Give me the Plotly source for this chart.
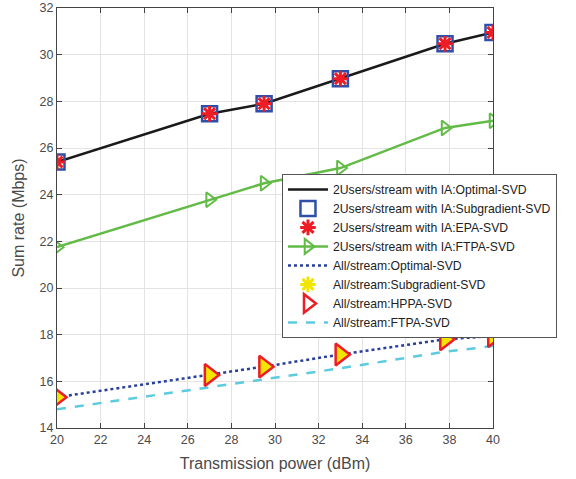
import plotly.graph_objects as go

power = [20, 27, 29.5, 33, 37.8, 40]
ia_optimal = [25.4, 27.47, 27.9, 28.97, 30.47, 30.95]
ia_subgrad = [25.4, 27.47, 27.9, 28.97, 30.47, 30.95]
ia_epa = [25.4, 27.47, 27.9, 28.97, 30.47, 30.95]
ia_ftpa = [21.75, 23.78, 24.49, 25.14, 26.86, 27.17]
all_optimal = [15.32, 16.27, 16.63, 17.15, 17.8, 17.94]
all_subgrad = [15.32, 16.27, 16.63, 17.15, 17.8, 17.94]
all_hppa = [15.32, 16.27, 16.63, 17.15, 17.8, 17.94]
all_ftpa = [14.8, 15.74, 16.09, 16.56, 17.27, 17.51]

names = [
    "2Users/stream with IA:Optimal-SVD",
    "2Users/stream with IA:Subgradient-SVD",
    "2Users/stream with IA:EPA-SVD",
    "2Users/stream with IA:FTPA-SVD",
    "All/stream:Optimal-SVD",
    "All/stream:Subgradient-SVD",
    "All/stream:HPPA-SVD",
    "All/stream:FTPA-SVD",
]

FONT = "Liberation Sans, Arial"

fig = go.Figure()
fig.add_trace(go.Scatter(x=power, y=ia_optimal, mode="lines", name=names[0],
                         line=dict(color="#1a1a1a", width=2.5), legendrank=1))
fig.add_trace(go.Scatter(x=power, y=ia_subgrad, mode="markers", name=names[1],
                         marker=dict(symbol="square-open", size=15, color="#2f4fa8",
                                     line=dict(color="#2f4fa8", width=2.5)), legendrank=2))
fig.add_trace(go.Scatter(x=power, y=ia_epa, mode="markers", name=names[2],
                         marker=dict(symbol="asterisk-open", size=13, color="#ee1c25",
                                     line=dict(color="#ee1c25", width=3)), legendrank=3))
fig.add_trace(go.Scatter(x=power, y=ia_ftpa, mode="lines+markers", name=names[3],
                         line=dict(color="#62bb46", width=2.5),
                         marker=dict(symbol="triangle-right-open", size=13, color="#62bb46",
                                     line=dict(color="#62bb46", width=2)), legendrank=4))
fig.add_trace(go.Scatter(x=power, y=all_optimal, mode="lines", name=names[4],
                         line=dict(color="#2a3f9d", width=2.5, dash="dot"), legendrank=5))
fig.add_trace(go.Scatter(x=power, y=all_ftpa, mode="lines", name=names[7],
                         line=dict(color="#5ccbe0", width=2.5, dash="dash"), legendrank=8))
# yellow fill behind HPPA triangles (subgradient asterisks)
fig.add_trace(go.Scatter(x=power, y=all_subgrad, mode="markers", showlegend=False,
                         marker=dict(symbol="triangle-right", size=17, color="#f2e600",
                                     line=dict(width=0))))
fig.add_trace(go.Scatter(x=power, y=all_hppa, mode="markers", showlegend=False,
                         marker=dict(symbol="triangle-right-open", size=19, color="#ee1c25",
                                     line=dict(color="#ee1c25", width=2.5))))
# legend entries
fig.add_trace(go.Scatter(x=[None], y=[None], mode="markers", name=names[5],
                         marker=dict(symbol="asterisk-open", size=13, color="#f2e600",
                                     line=dict(color="#f2e600", width=3)), legendrank=6))
fig.add_trace(go.Scatter(x=[None], y=[None], mode="markers", name=names[6],
                         marker=dict(symbol="triangle-right-open", size=17, color="#ee1c25",
                                     line=dict(color="#ee1c25", width=2.5)), legendrank=7))

axis_common = dict(
    showline=True, linecolor="#444444", linewidth=1, mirror="ticks",
    ticks="inside", ticklen=5, tickcolor="#444444",
    showgrid=True, gridcolor="#e3e3e3", gridwidth=1, zeroline=False,
    automargin=False,
    tickfont=dict(family=FONT, size=12.5, color="#4a4a4a"),
)
fig.update_xaxes(range=[20, 40], dtick=2, tick0=20,
                 title=dict(text="Transmission power (dBm)", standoff=11,
                            font=dict(family=FONT, size=16, color="#4a4a4a")),
                 **axis_common)
fig.update_yaxes(range=[14, 32], dtick=2, tick0=14,
                 title=dict(text="Sum rate (Mbps)", standoff=10,
                            font=dict(family=FONT, size=16, color="#4a4a4a")),
                 **axis_common)

fig.update_layout(
    width=576, height=479,
    margin=dict(l=57, r=83, t=8, b=51),
    paper_bgcolor="white", plot_bgcolor="white",
    legend=dict(x=0.516, y=0.605, xanchor="left", yanchor="top",
                bgcolor="white", bordercolor="#555555", borderwidth=1,
                font=dict(family=FONT, size=12.2, color="#222222"),
                tracegroupgap=0, itemwidth=40),
    showlegend=True,
)

fig.write_html("out.html")
